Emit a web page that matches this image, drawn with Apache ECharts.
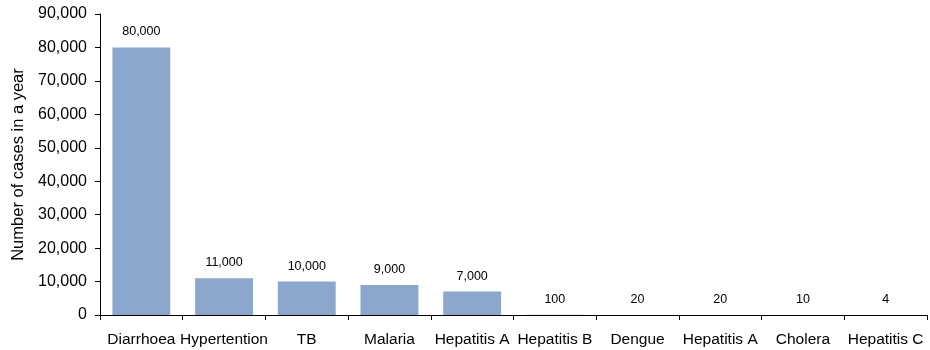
<!DOCTYPE html>
<html>
<head>
<meta charset="utf-8">
<script src="https://cdn.jsdelivr.net/npm/echarts@6/dist/echarts.min.js"></script>
<style>
  html, body { margin: 0; padding: 0; background: #fff; }
  #chart { width: 930px; height: 350px; }
</style>
</head>
<body>
<div id="chart"></div>
<script>
const diseases = ['Diarrhoea', 'Hypertention', 'TB', 'Malaria', 'Hepatitis A', 'Hepatitis B', 'Dengue', 'Hepatitis A', 'Cholera', 'Hepatitis C'];
const casesPerYear = [80000, 11000, 10000, 9000, 7000, 100, 20, 20, 10, 4];
const yTicks = { min: 0, max: 90000, step: 10000 };

const fontFamily = 'Liberation Sans, Arial, sans-serif';
const chart = echarts.init(document.getElementById('chart'));

chart.setOption({
  animation: false,
  grid: { left: 100, right: 3, top: 14, bottom: 35 },
  xAxis: {
    type: 'category',
    data: diseases,
    axisLine: { lineStyle: { color: '#000', width: 1 } },
    axisTick: { show: true, alignWithLabel: false, length: 5, lineStyle: { color: '#000' } },
    axisLabel: { color: '#000', fontFamily, fontSize: 15.5, margin: 17, interval: 0 }
  },
  yAxis: {
    type: 'value',
    min: yTicks.min,
    max: yTicks.max,
    interval: yTicks.step,
    name: 'Number of cases in a year',
    nameLocation: 'middle',
    nameGap: 72,
    nameTextStyle: { color: '#000', fontFamily, fontSize: 16.5 },
    axisLine: { show: true, lineStyle: { color: '#000', width: 1 } },
    axisTick: { show: true, length: 5, lineStyle: { color: '#000' } },
    splitLine: { show: false },
    axisLabel: {
      color: '#000', fontFamily, fontSize: 16, margin: 13,
      formatter: v => v.toLocaleString('en-US')
    }
  },
  series: [{
    type: 'bar',
    data: casesPerYear,
    barCategoryGap: '30%',
    itemStyle: { color: '#8ba7cd' },
    label: {
      show: true,
      position: 'top',
      distance: 9,
      color: '#000',
      fontFamily,
      fontSize: 12.5,
      formatter: p => p.value.toLocaleString('en-US')
    }
  }]
});
</script>
</body>
</html>
